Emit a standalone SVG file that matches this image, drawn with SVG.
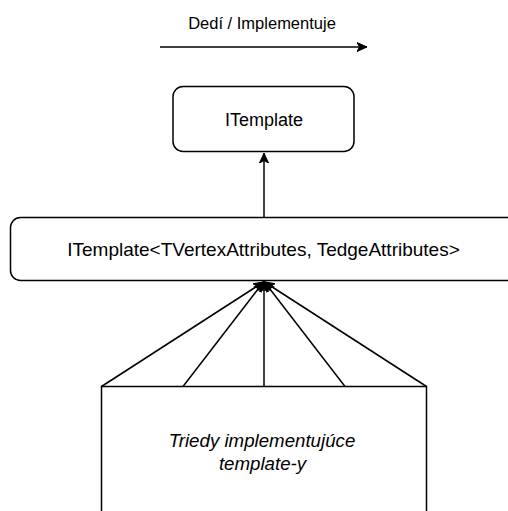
<svg xmlns="http://www.w3.org/2000/svg" width="508" height="511" viewBox="0 0 508 511">
<style>
.box{fill:#fff;stroke:#000;stroke-width:1.5}
.t{font-family:"Liberation Sans",Arial,sans-serif;font-size:18px;fill:#000;text-anchor:middle}
.e{fill:none;stroke:#000;stroke-width:1.5}
</style>
<defs>
<marker id="a" markerWidth="12" markerHeight="12" refX="10" refY="6" orient="auto" markerUnits="userSpaceOnUse">
<path d="M0,1.5 L10,6 L0,10.5 L2.5,6 Z" fill="#000" stroke="#000" stroke-width="1"/>
</marker>
</defs>
<rect width="508" height="511" fill="#fff"/>
<g id="legend">
<text class="t" x="262" y="29" style="font-size:16.5px">Dedí / Implementuje</text>
<line class="e" x1="160" y1="47" x2="367" y2="47" marker-end="url(#a)"/>
</g>
<g id="itemplate">
<rect class="box" x="173" y="86.5" width="181" height="65" rx="10"/>
<text class="t" x="264" y="126">ITemplate</text>
</g>
<g id="itemplate-generic">
<rect class="box" x="10.5" y="217.5" width="508" height="63" rx="10"/>
<text class="t" x="263.5" y="256" style="font-size:19px">ITemplate&lt;TVertexAttributes, TedgeAttributes&gt;</text>
</g>
<g id="classes">
<rect class="box" x="101.5" y="386.5" width="325" height="140"/>
<text class="t" x="262" y="447" font-style="italic" style="font-size:18.7px">Triedy implementujúce</text>
<text class="t" x="262.5" y="470" font-style="italic" style="font-size:18.7px">template-y</text>
</g>
<g id="connectors">
<line class="e" x1="264" y1="217" x2="264" y2="153" marker-end="url(#a)"/>
<line class="e" x1="101.5" y1="386.5" x2="263.5" y2="282" marker-end="url(#a)"/>
<line class="e" x1="183" y1="386.5" x2="263.5" y2="282" marker-end="url(#a)"/>
<line class="e" x1="264" y1="386.5" x2="264" y2="282" marker-end="url(#a)"/>
<line class="e" x1="345" y1="386.5" x2="264.5" y2="282" marker-end="url(#a)"/>
<line class="e" x1="426.5" y1="386.5" x2="264.5" y2="282" marker-end="url(#a)"/>
</g>
</svg>
